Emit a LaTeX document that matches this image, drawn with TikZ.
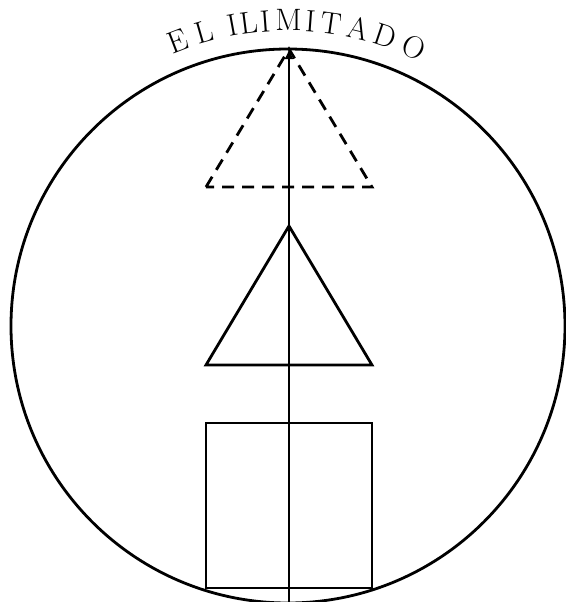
\documentclass[tikz,border=0pt]{standalone}
\usetikzlibrary{arrows.meta}

\begin{document}
\begin{tikzpicture}[x=0.5pt,y=0.5pt,
    outline/.style={line width=1.4pt},
    dashline/.style={outline, dash pattern=on 6pt off 4pt},
    letter/.style={anchor=base, inner sep=0pt, font=\fontsize{15.5}{18}\selectfont}]
  \useasboundingbox (-288,-276) rectangle (278,326);

  \coordinate (centre) at (0,0);
  \coordinate (axis-bottom) at (1,-282);
  \coordinate (axis-top) at (1,277);
  \coordinate (upper-apex) at (1,277);
  \coordinate (upper-left) at (-82,139);
  \coordinate (upper-right) at (84,139);
  \coordinate (lower-apex) at (1,100);
  \coordinate (lower-left) at (-82,-39);
  \coordinate (lower-right) at (84,-39);
  \coordinate (square-nw) at (-82,-97);
  \coordinate (square-se) at (84,-262);

  \draw[outline] (centre) circle[radius=277];
  % title set letter by letter along the rim
  \foreach \ch/\ang [count=\i] in {E/111.1, L/106.0, I/100.5, L/97.4, I/94.3,
      M/89.9, I/85.8, T/81.8, A/76.6, D/71.4, O/65.6}
    \node[letter, rotate=\ang-90] (title-\i) at (\ang:295) {\ch};

  \draw[dashline] (upper-left) -- (upper-apex) -- (upper-right) -- cycle;
  \draw[outline] (lower-left) -- (lower-apex) -- (lower-right) -- cycle;
  \draw[outline] (square-nw) rectangle (square-se);
  \draw[outline, -{Latex[length=5pt,width=4.5pt]}] (axis-bottom) -- (axis-top);
\end{tikzpicture}
\end{document}
